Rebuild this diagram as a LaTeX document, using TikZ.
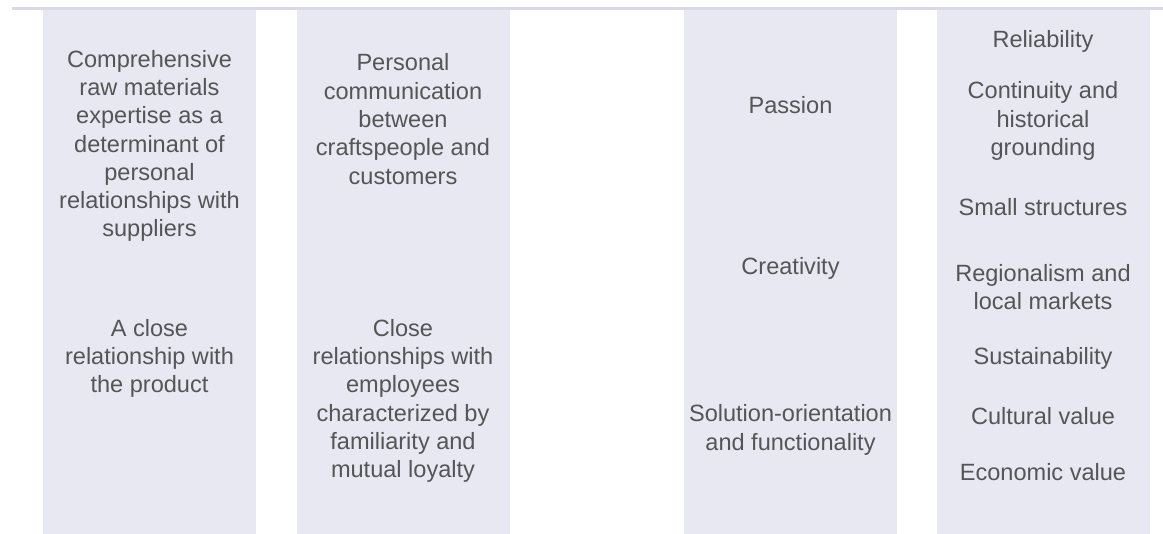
\documentclass[tikz,border=0pt]{standalone}
\usepackage{fontspec}
\setmainfont{Liberation Sans}
\usepackage{tikz}
\usetikzlibrary{backgrounds}
\definecolor{colfill}{HTML}{E8E8F2}
\definecolor{rulecol}{HTML}{D8D9EB}
\definecolor{txtgray}{HTML}{555555}
\tikzstyle{frame}=[font=\fontsize{13.4}{16.1}\selectfont, text=txtgray]
\tikzstyle{col}=[rectangle, fill=colfill, inner sep=0pt, minimum width=4.26cm, minimum height=10.48cm]
\tikzstyle{item}=[inner sep=0pt, align=center]
\tikzstyle{rule}=[-, draw=rulecol, line width=1.3pt]
\newcommand{\colY}{-5.44}
\newcommand{\ruleY}{-0.17}

\begin{document}
\begin{tikzpicture}[frame]
	\useasboundingbox (0,0) rectangle (23.26,-10.68);
	\coordinate (rl) at (0.24,\ruleY);
	\coordinate (rr) at (23.26,\ruleY);
	\draw[rule] (rl) -- (rr);
	%%
	\draw (2.99,\colY) node[col] (c1) {};
	\draw (8.06,\colY) node[col] (c2) {};
	\draw (15.81,\colY) node[col] (c3) {};
	\draw (20.86,\colY) node[col] (c4) {};
	%%
	\draw (2.99,-2.92) node[item] (c1a) {Comprehensive\\raw materials\\expertise as a\\determinant of\\personal\\relationships with\\suppliers};
	\draw (2.99,-7.17) node[item] (c1b) {A close\\relationship with\\the product};
	%%
	\draw (8.06,-2.38) node[item] (c2a) {Personal\\communication\\between\\craftspeople and\\customers};
	\draw (8.06,-8.02) node[item] (c2b) {Close\\relationships with\\employees\\characterized by\\familiarity and\\mutual loyalty};
	%%
	\draw (15.81,-2.1) node[item] (c3a) {Passion};
	\draw (15.81,-5.36) node[item] (c3b) {Creativity};
	\draw (15.81,-8.6) node[item] (c3c) {Solution-orientation\\and functionality};
	%%
	\draw (20.86,-0.82) node[item] (c4a) {Reliability};
	\draw (20.86,-2.42) node[item] (c4b) {Continuity and\\historical\\grounding};
	\draw (20.86,-4.15) node[item] (c4c) {Small structures};
	\draw (20.86,-5.74) node[item] (c4d) {Regionalism and\\local markets};
	\draw (20.86,-7.16) node[item] (c4e) {Sustainability};
	\draw (20.86,-8.32) node[item] (c4f) {Cultural value};
	\draw (20.86,-9.45) node[item] (c4g) {Economic value};
\end{tikzpicture}
\end{document}
